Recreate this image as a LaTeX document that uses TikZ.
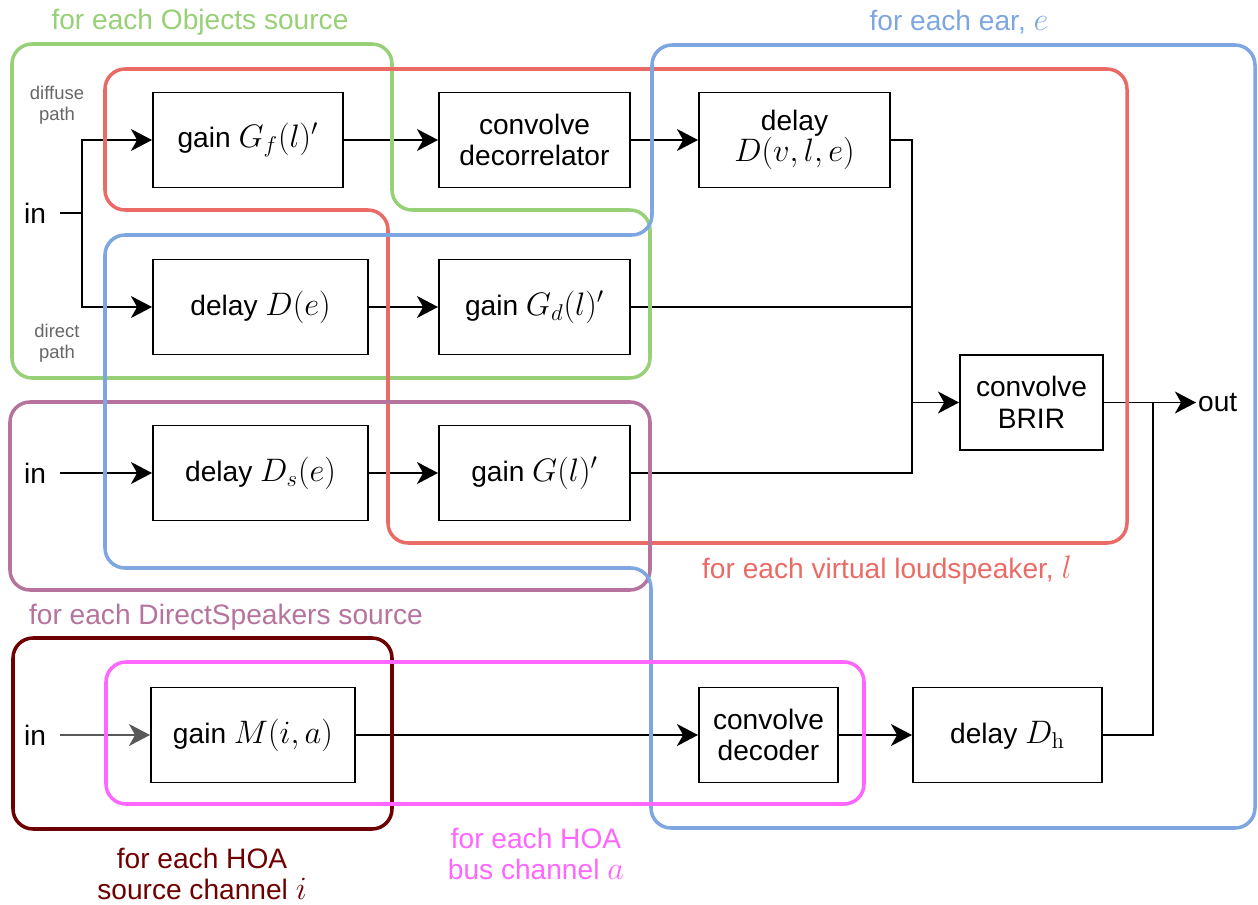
\documentclass[tikz,border=0pt]{standalone}
\usepackage{fix-cm}
\usepackage[no-math]{fontspec}
\setmainfont{Liberation Sans}
\DeclareMathSizes{16}{18.5}{13}{10}
\usetikzlibrary{arrows.meta}
\definecolor{objgreen}{HTML}{97D077}
\definecolor{spkred}{HTML}{EA6B66}
\definecolor{earblue}{HTML}{7EA6E0}
\definecolor{dspurple}{HTML}{B5739D}
\definecolor{srcred}{HTML}{6F0000}
\definecolor{busmagenta}{HTML}{FF66FF}

\begin{document}
\begin{tikzpicture}[font=\fontsize{16}{18}\selectfont,
    blk/.style={draw, line width=1.1pt, minimum height=1.9cm, align=center},
    wire/.style={line width=1.1pt},
    arr/.style={wire, -{Stealth[length=12pt,width=12.5pt,inset=3.5pt]}},
    grp/.style={line width=2pt, rounded corners=0.4cm},
    io/.style={inner sep=8pt},
    lbl/.style={align=center}]
      \useasboundingbox (0,0) rectangle (25.16,-18.1);

      \node[blk, minimum width=3.8cm] (gf) at (4.96,-2.8) {gain $G_f(l)'$};
      \node[blk, minimum width=3.82cm] (dec) at (10.69,-2.8) {convolve\\decorrelator};
      \node[blk, minimum width=3.82cm] (dvle) at (15.89,-2.8) {delay\\$D(v,l,e)$};
      \node[blk, minimum width=4.3cm] (de) at (5.21,-6.14) {delay $D(e)$};
      \node[blk, minimum width=3.82cm] (gd) at (10.69,-6.14) {gain $G_d(l)'$};
      \node[blk, minimum width=2.86cm] (brir) at (20.63,-8.05) {convolve\\BRIR};
      \node[blk, minimum width=4.3cm] (ds) at (5.21,-9.46) {delay $D_s(e)$};
      \node[blk, minimum width=3.82cm] (gl) at (10.69,-9.46) {gain $G(l)'$};
      \node[blk, minimum width=4.08cm] (mia) at (5.06,-14.7) {gain $M(i,a)$};
      \node[blk, minimum width=2.78cm] (cdec) at (15.37,-14.7) {convolve\\decoder};
      \node[blk, minimum width=3.78cm] (dh) at (20.15,-14.7) {delay $D_{\mathrm{h}}$};

      \node[io] (in1) at (0.7,-4.26) {in};
      \node[io] (in2) at (0.7,-9.46) {in};
      \node[io] (in3) at (0.7,-14.7) {in};
      \node[anchor=west, inner sep=1pt] (out) at (23.92,-8.05) {out};
      \node[lbl, text=black!60, font=\fontsize{10.5}{12}\selectfont] (diffuse) at (1.14,-2.1) {diffuse\\path};
      \node[lbl, text=black!60, font=\fontsize{10.5}{12}\selectfont] (direct) at (1.14,-6.86) {direct\\path};

      \coordinate (split) at (1.64,-4.26);
      \coordinate (sum) at (18.24,-8.05);
      \coordinate (hsum) at (23.06,-8.05);

      \draw[wire] (in1) -- (split);
      \draw[arr] (split) |- (gf);
      \draw[arr] (split) |- (de);
      \draw[arr] (gf) -- (dec);
      \draw[arr] (dec) -- (dvle);
      \draw[arr] (de) -- (gd);
      \draw[wire] (dvle.east) -| (sum);
      \draw[wire] (gd.east) -- (gd.east -| sum);
      \draw[wire] (gl.east) -| (sum);
      \draw[arr] (sum) -- (brir);
      \draw[arr] (brir) -- (out);
      \draw[arr] (in2) -- (ds);
      \draw[arr] (ds) -- (gl);
      \draw[arr, black!65] (in3) -- (mia);
      \draw[arr] (mia) -- (cdec);
      \draw[arr] (cdec) -- (dh);
      \draw[wire] (dh.east) -| (hsum);

      \draw[grp, objgreen] (0.24,-0.88) -- (7.84,-0.88) -- (7.84,-4.2) -- (13,-4.2) -- (13,-7.56) -- (0.24,-7.56) -- cycle;
      \draw[grp, spkred] (2.1,-1.38) -- (22.54,-1.38) -- (22.54,-10.86) -- (7.76,-10.86) -- (7.76,-4.2) -- (2.1,-4.2) -- cycle;
      \draw[grp, dspurple] (0.2,-8.04) rectangle (13,-11.8);
      \draw[grp, earblue] (13.04,-0.9) -- (25.1,-0.9) -- (25.1,-16.56) -- (13.02,-16.56) -- (13.02,-11.36) -- (2.1,-11.36) -- (2.1,-4.7) -- (13.04,-4.7) -- cycle;
      \draw[grp, srcred] (0.26,-12.76) rectangle (7.84,-16.58);
      \draw[grp, busmagenta] (2.12,-13.24) rectangle (17.28,-16.08);

      \node[text=objgreen] (objlbl) at (4.0,-0.44) {for each Objects source};
      \node[text=earblue] (earlbl) at (19.18,-0.44) {for each ear, $e$};
      \node[text=spkred] (spklbl) at (17.74,-11.4) {for each virtual loudspeaker, $l$};
      \node[text=dspurple] (dslbl) at (4.52,-12.34) {for each DirectSpeakers source};
      \node[lbl, text=srcred] (srclbl) at (4.04,-17.48) {for each HOA\\source channel $i$};
      \node[lbl, text=busmagenta] (buslbl) at (10.72,-17.08) {for each HOA\\bus channel $a$};
    \end{tikzpicture}
\end{document}
